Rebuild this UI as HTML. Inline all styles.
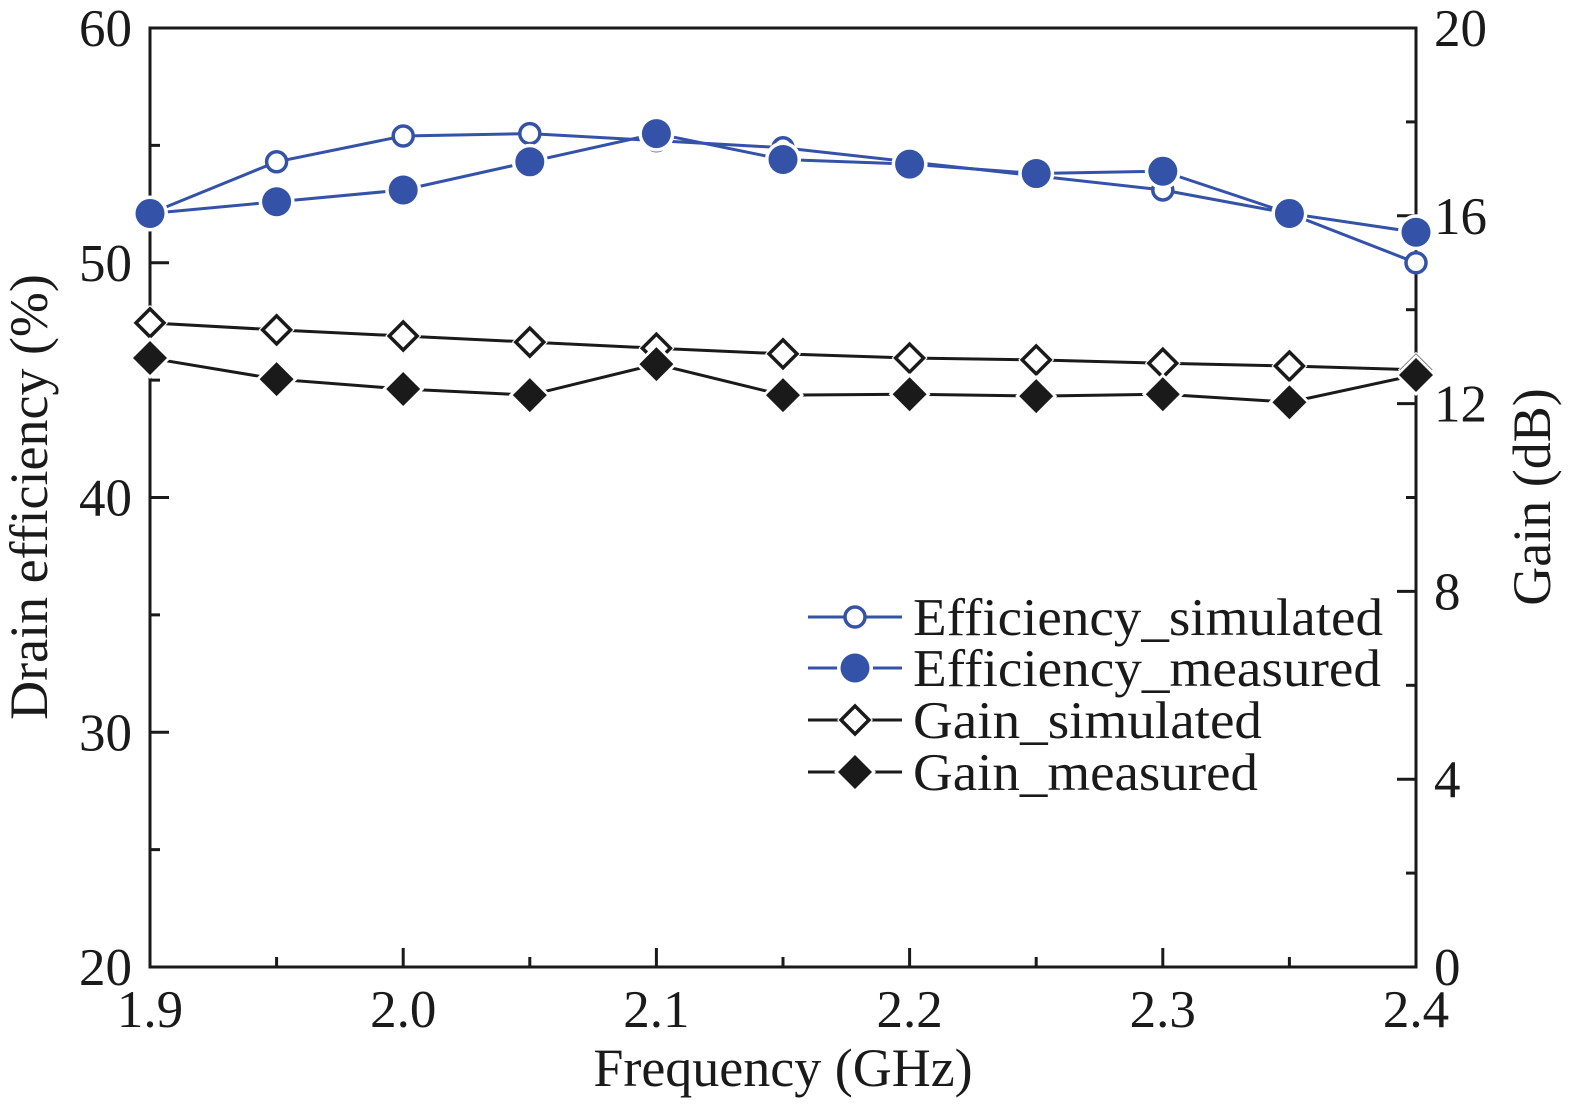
<!DOCTYPE html>
<html><head><meta charset="utf-8"><style>
html,body{margin:0;padding:0;background:#fff}
svg{display:block}
text{font-family:"Liberation Serif","Times New Roman",serif;fill:#1a1a1a}
</style></head><body>
<svg id="chart" width="1575" height="1107" viewBox="0 0 1575 1107">
<g id="axes"></g><g id="series"></g><g id="legend"></g>
</svg>
<script>
const freqs=[1.9,1.95,2.0,2.05,2.1,2.15,2.2,2.25,2.3,2.35,2.4];
const effSim=[52.1,54.3,55.4,55.5,55.2,54.9,54.3,53.7,53.1,52.1,50.0];
const effMeas=[52.1,52.6,53.1,54.3,55.5,54.4,54.2,53.8,53.9,52.1,51.3];
const gainSim=[13.72,13.57,13.44,13.31,13.18,13.06,12.97,12.93,12.86,12.80,12.72];
const gainMeas=[12.97,12.52,12.31,12.18,12.84,12.18,12.20,12.16,12.20,12.03,12.61];
const xTicks=["1.9","2.0","2.1","2.2","2.3","2.4"];
const yLeftTicks=[20,30,40,50,60];
const yRightTicks=[0,4,8,12,16,20];

const NS="http://www.w3.org/2000/svg";
const L=150,R=1416,T=28,B=967;
const xs=v=>L+(v-1.9)/0.5*(R-L);
const yl=v=>B-(v-20)/40*(B-T);
const yr=v=>B-v/20*(B-T);
function mk(tag,attrs,parent,txt){const e=document.createElementNS(NS,tag);for(const k in attrs)e.setAttribute(k,attrs[k]);if(txt!==undefined)e.textContent=txt;parent.appendChild(e);return e;}
const axes=document.getElementById('axes'),series=document.getElementById('series'),legend=document.getElementById('legend');
const frame=mk('rect',{x:L,y:T,width:R-L,height:B-T,fill:'none',stroke:'#1a1a1a','stroke-width':3},axes);


for(let i=0;i<=10;i++){const v=1.9+i*0.05;const len=i%2===0?19:10;
mk('line',{x1:xs(v),x2:xs(v),y1:B,y2:B-len,stroke:'#1a1a1a','stroke-width':3},axes);}
xTicks.forEach(t=>{const el=mk('text',{x:xs(+t),y:B+60,'font-size':53,'text-anchor':'middle'},axes,t);

});
for(let v=20;v<=60;v+=5){const len=v%10===0?19:10;mk('line',{x1:L,x2:L+len,y1:yl(v),y2:yl(v),stroke:'#1a1a1a','stroke-width':3},axes);}
yLeftTicks.forEach(t=>{const el=mk('text',{x:L-18,y:yl(t)+18,'font-size':53,'text-anchor':'end'},axes,t);

});
for(let v=0;v<=20;v+=2){const len=v%4===0?19:10;mk('line',{x1:R,x2:R-len,y1:yr(v),y2:yr(v),stroke:'#1a1a1a','stroke-width':3},axes);}
yRightTicks.forEach(t=>{const el=mk('text',{x:R+18,y:yr(t)+18,'font-size':53,'text-anchor':'start'},axes,t);

});
const xt=mk('text',{x:783,y:1086,'font-size':54,'text-anchor':'middle'},axes,'Frequency (GHz)');


const ylt=mk('text',{x:0,y:0,'font-size':54,'text-anchor':'middle',transform:'translate(47,497) rotate(-90)'},axes,'Drain efficiency (%)');


const yrt=mk('text',{x:0,y:0,'font-size':54,'text-anchor':'middle',transform:'translate(1550,497) rotate(-90)'},axes,'Gain (dB)');



const BLUE='#3452a8',BLK='#1a1a1a';
function marker(g,type,x,y,col){
 if(type==='oc'){return mk('circle',{cx:x,cy:y,r:10,fill:'#fff',stroke:col,'stroke-width':3.5},g);}
 if(type==='fc'){mk('circle',{cx:x,cy:y,r:18,fill:'#fff'},g);return mk('circle',{cx:x,cy:y,r:14.5,fill:col},g);}
 const s=type==='fd'?17:14;
 const pts=`${x},${y-s} ${x+s},${y} ${x},${y+s} ${x-s},${y}`;
 mk('polygon',{points:`${x},${y-s-4} ${x+s+4},${y} ${x},${y+s+4} ${x-s-4},${y}`,fill:'#fff'},g);
 if(type==='od')return mk('polygon',{points:pts,fill:'#fff',stroke:col,'stroke-width':3.5},g);
 return mk('polygon',{points:pts,fill:col},g);
}
function drawSeries(name,vals,yf,col,type){
 const g=mk('g',{},series);
 
 
 const d=vals.map((v,i)=>(i?'L':'M')+xs(freqs[i])+','+yf(v)).join(' ');
 mk('path',{d:d,fill:'none',stroke:col,'stroke-width':3},g);
 vals.forEach((v,i)=>{const m=marker(g,type,xs(freqs[i]),yf(v),col);
  
  });
}
drawSeries('gain-simulated',gainSim,yr,BLK,'od');
drawSeries('gain-measured',gainMeas,yr,BLK,'fd');
drawSeries('efficiency-simulated',effSim,yl,BLUE,'oc');
drawSeries('efficiency-measured',effMeas,yl,BLUE,'fc');

const leg=[['Efficiency_simulated',BLUE,'oc',617],['Efficiency_measured',BLUE,'fc',668],['Gain_simulated',BLK,'od',720],['Gain_measured',BLK,'fd',772]];
leg.forEach(([lab,col,type,y])=>{const g=mk('g',{},legend);
 
 
 mk('line',{x1:808,x2:902,y1:y,y2:y,stroke:col,'stroke-width':3},g);
 marker(g,type,855,y,col);
 const t=mk('text',{x:913,y:y+18,'font-size':53,textLength:type==='oc'?470:(type==='fc'?468:(type==='od'?349:345)),lengthAdjust:'spacingAndGlyphs'},g,lab);});
</script>
</body></html>
